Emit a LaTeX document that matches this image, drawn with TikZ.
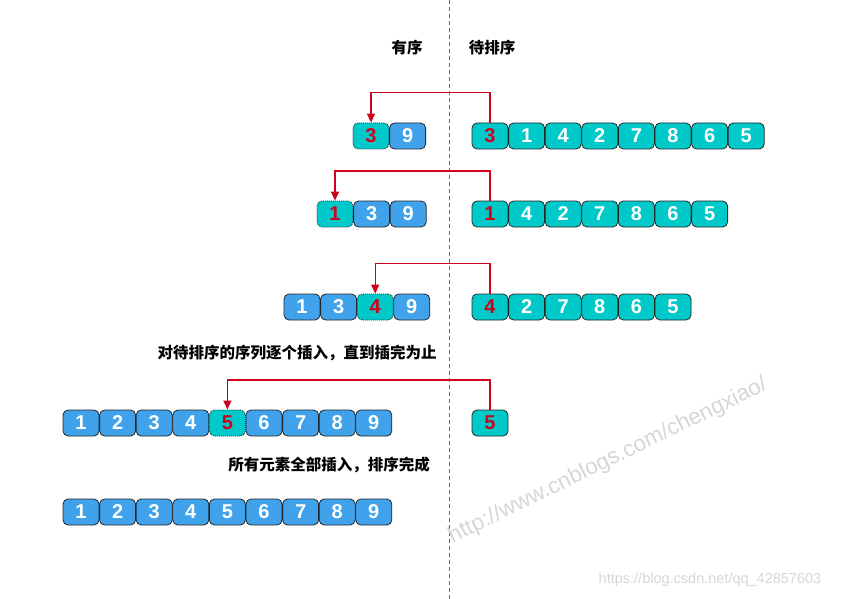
\documentclass[tikz,border=0pt]{standalone}
\usepackage{fontspec}
\setmainfont{Liberation Sans}
\newfontfamily\cjk{Noto Sans CJK SC}
\usetikzlibrary{arrows.meta}
\definecolor{cellblue}{HTML}{3FA2EA}
\definecolor{cellteal}{HTML}{00C9C9}
\definecolor{mark}{HTML}{D0021B}
\definecolor{divider}{HTML}{5C6B82}
\tikzset{
  cell/.style={draw=black!85, line width=0.8pt, rounded corners=5pt,
    minimum width=36pt, minimum height=26pt, inner sep=0pt,
    font=\bfseries\fontsize{20}{20}\selectfont, text=white},
  sorted/.style={cell, fill=cellblue},
  pending/.style={cell, fill=cellteal},
  picked/.style={pending, text=mark},
  slot/.style={cell, fill=cellteal, text=mark, dash pattern=on 1pt off 1pt},
  caption/.style={font=\cjk\bfseries\fontsize{15.5}{15.5}\selectfont, text=black},
  mover/.style={draw=mark, line width=1.3pt, -{Triangle[length=9pt,width=8pt]}},
  watermark/.style={text=black!16, font=\fontsize{22.5}{22.5}\selectfont}
}
\begin{document}
\begin{tikzpicture}[x=1pt,y=-1pt]
\useasboundingbox (0,0) rectangle (841,599);
\draw[divider, line width=1pt, dash pattern=on 4pt off 3pt] (449,0) -- (449,599);
\node[caption] (hs) at (407,48) {有序};
\node[caption] (hu) at (492,48) {待排序};
% row 1
\node[slot] (a1) at (371,136) {3};
\node[sorted] (a2) at (407.6,136) {9};
\node[picked] (b1) at (490,136) {3};
\foreach \v [count=\i from 2] in {1,4,2,7,8,6,5}
  \node[pending] (b\i) at ({490+36.6*(\i-1)},136) {\v};
\draw[mover] (b1.north) -- ++(0,-30) -| (a1.north);
% row 2
\node[slot] (c1) at (335,214) {1};
\node[sorted] (c2) at (371.6,214) {3};
\node[sorted] (c3) at (408.2,214) {9};
\node[picked] (d1) at (490,214) {1};
\foreach \v [count=\i from 2] in {4,2,7,8,6,5}
  \node[pending] (d\i) at ({490+36.6*(\i-1)},214) {\v};
\draw[mover] (d1.north) -- ++(0,-29.5) -| (c1.north);
% row 3
\node[sorted] (e1) at (302,307) {1};
\node[sorted] (e2) at (338.6,307) {3};
\node[slot] (e3) at (375.2,307) {4};
\node[sorted] (e4) at (411.8,307) {9};
\node[picked] (f1) at (490,307) {4};
\foreach \v [count=\i from 2] in {2,7,8,6,5}
  \node[pending] (f\i) at ({490+36.6*(\i-1)},307) {\v};
\draw[mover] (f1.north) -- ++(0,-30) -| (e3.north);
% caption 1
\node[caption] (t1) at (297,353) {对待排序的序列逐个插入，直到插完为止};
% row 4
\foreach \v [count=\i] in {1,2,3,4}
  \node[sorted] (g\i) at ({81+36.6*(\i-1)},423) {\v};
\node[slot] (g5) at ({81+36.6*4},423) {5};
\foreach \v [count=\i from 6] in {6,7,8,9}
  \node[sorted] (g\i) at ({81+36.6*(\i-1)},423) {\v};
\node[picked] (h1) at (490,423) {5};
\draw[mover] (h1.north) -- ++(0,-29.5) -| (g5.north);
% caption 2
\node[caption] (t2) at (329,465) {所有元素全部插入，排序完成};
% row 5
\foreach \v [count=\i] in {1,2,3,4,5,6,7,8,9}
  \node[sorted] (k\i) at ({81+36.6*(\i-1)},512) {\v};
% watermarks
\node[watermark, rotate=26] (w1) at (608,461) {http://www.cnblogs.com/chengxiao/};
\node[watermark, font=\fontsize{14.5}{14.5}\selectfont] (w2) at (710,580) {https://blog.csdn.net/qq\_42857603};
\end{tikzpicture}
\end{document}
